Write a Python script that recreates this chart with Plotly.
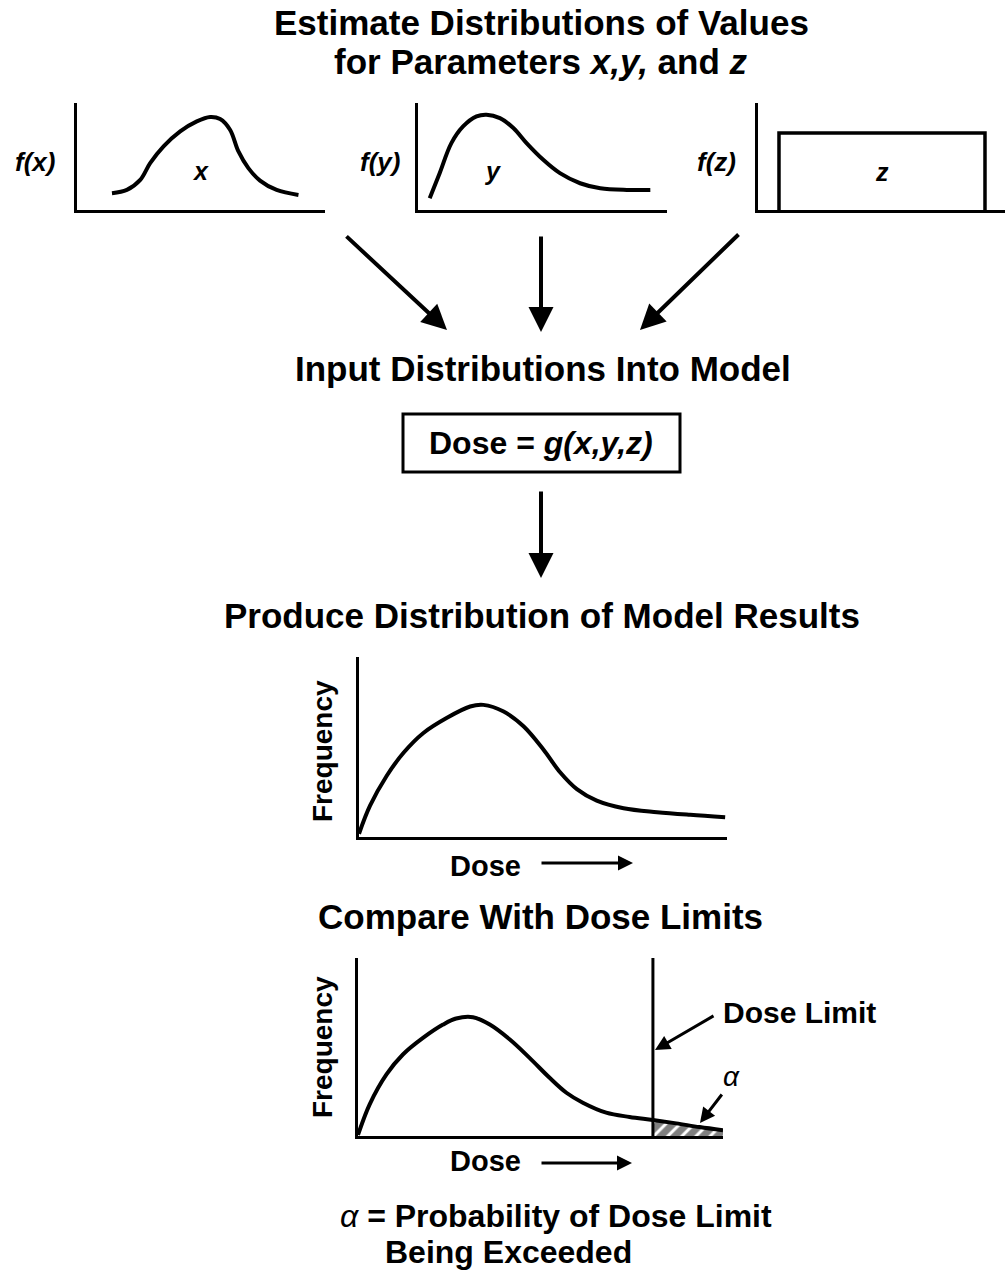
import plotly.graph_objects as go

W, H = 1007, 1276
FONT = "Liberation Sans, Arial, Helvetica, sans-serif"

# ---- data ----
# panel x: f(x)
fx_x = [1.41, 2.01, 2.55, 2.95, 3.49, 4.16, 4.83, 5.37, 5.77, 6.17, 6.51, 6.91, 7.38, 8.05, 8.93]
fx_f = [0.156, 0.1875, 0.281, 0.4375, 0.594, 0.734, 0.828, 0.869, 0.85, 0.75, 0.547, 0.391, 0.275, 0.1875, 0.141]
# panel y: f(y)
fy_x = [0.47, 0.87, 1.34, 1.81, 2.35, 2.75, 3.29, 3.83, 4.36, 5.03, 5.70, 6.51, 7.32, 8.39, 9.33]
fy_f = [0.109, 0.344, 0.625, 0.781, 0.875, 0.891, 0.859, 0.766, 0.625, 0.469, 0.344, 0.25, 0.203, 0.1875, 0.1875]
# panel z: uniform f(z)
fz_x = [0.85, 0.85, 9.19, 9.19]
fz_f = [0.0, 0.72, 0.72, 0.0]
# model results distribution
res_x = [0, 0.30, 0.75, 1.21, 1.75, 2.38, 3.02, 3.38, 3.93, 4.47, 5.01, 5.47, 5.92, 6.46, 7.19, 8.10, 9.00, 9.95]
res_f = [0.018, 0.174, 0.339, 0.468, 0.578, 0.661, 0.725, 0.734, 0.697, 0.615, 0.486, 0.358, 0.266, 0.202, 0.160, 0.138, 0.123, 0.110]
# comparison distribution
cmp_x = [0, 0.32, 0.78, 1.23, 1.78, 2.33, 2.69, 3.15, 3.61, 4.16, 4.70, 5.25, 5.71, 6.16, 6.80, 7.44, 8.08, 8.72, 9.36, 10.0]
cmp_f = [0.006, 0.178, 0.346, 0.458, 0.551, 0.626, 0.660, 0.667, 0.626, 0.542, 0.439, 0.327, 0.243, 0.187, 0.131, 0.107, 0.090, 0.071, 0.050, 0.032]
dose_limit = 8.08

tail_x = [x for x in cmp_x if x >= dose_limit]
tail_f = [f for x, f in zip(cmp_x, cmp_f) if x >= dose_limit]


def clamp(v):
    return max(0.0, min(1.0, v))


def dx(a, b):
    return [clamp(a / W), clamp(b / W)]


def dy(top, bottom):
    return [clamp(1 - bottom / H), clamp(1 - top / H)]


fig = go.Figure()
curve = dict(color="black", width=4)

fig.add_trace(go.Scatter(x=fx_x, y=fx_f, mode="lines", line=dict(shape="spline", **curve), xaxis="x", yaxis="y"))
fig.add_trace(go.Scatter(x=fy_x, y=fy_f, mode="lines", line=dict(shape="spline", **curve), xaxis="x2", yaxis="y2"))
fig.add_trace(go.Scatter(x=fz_x, y=fz_f, mode="lines", line=dict(color="black", width=3.5), xaxis="x3", yaxis="y3"))
fig.add_trace(go.Scatter(x=res_x, y=res_f, mode="lines", line=dict(shape="spline", **curve), xaxis="x4", yaxis="y4"))
fig.add_trace(go.Scatter(x=tail_x, y=tail_f, mode="lines", line=dict(color="black", width=0),
                         fill="tozeroy", fillcolor="white",
                         fillpattern=dict(shape="/", fgcolor="black", bgcolor="white", size=10, solidity=0.7),
                         xaxis="x5", yaxis="y5"))
fig.add_trace(go.Scatter(x=cmp_x, y=cmp_f, mode="lines", line=dict(shape="spline", **curve), xaxis="x5", yaxis="y5"))
fig.add_trace(go.Scatter(x=[dose_limit, dose_limit], y=[0, 1], mode="lines", line=dict(color="black", width=3),
                         xaxis="x5", yaxis="y5"))
fig.add_trace(go.Scatter(x=[], y=[], xaxis="x6", yaxis="y6"))

ax_common = dict(showline=True, linecolor="black", linewidth=3, showticklabels=False,
                 showgrid=False, zeroline=False, ticks="", fixedrange=True)

# panel frames in page pixels: (left, right, top, bottom)
panels = {
    "": (77, 325, 103, 210),
    "2": (418, 667, 103, 210),
    "3": (758, 1005, 103, 210),
    "4": (359, 727, 657, 837),
    "5": (358, 723, 958, 1136),
}
layout_axes = {}
for k, (x0, x1, y0, y1) in panels.items():
    layout_axes["xaxis" + k] = dict(domain=dx(x0, x1), range=[0, 10], anchor="y" + k, **ax_common)
    layout_axes["yaxis" + k] = dict(domain=dy(y0, y1), range=[0, 1], anchor="x" + k, **ax_common)

layout_axes["xaxis6"] = dict(domain=[0, 1], range=[0, W], visible=False, anchor="y6", fixedrange=True)
layout_axes["yaxis6"] = dict(domain=[0, 1], range=[H, 0], visible=False, anchor="x6", fixedrange=True)

annotations = []


def txt(x, y, s, size, italic=False, bold=True, xanchor="center", angle=0):
    annotations.append(dict(
        x=x, y=y, xref="x6", yref="y6", text=s, showarrow=False,
        xanchor=xanchor, yanchor="middle", textangle=angle,
        font=dict(family=FONT, size=size, color="black",
                  weight="bold" if bold else "normal",
                  style="italic" if italic else "normal"),
    ))


def arrow(x0, y0, x1, y1, width=4, size=1.0):
    annotations.append(dict(
        x=x1, y=y1, ax=x0, ay=y0, xref="x6", yref="y6", axref="x6", ayref="y6",
        text="", showarrow=True, arrowhead=2, arrowwidth=width, arrowsize=size,
        arrowcolor="black", standoff=0, startstandoff=0,
    ))


HS = 35
txt(541, 22, "Estimate Distributions of Values", HS)
txt(541, 61.5, "for Parameters <i>x,y,</i> and <i>z</i>", HS)
txt(35, 162, "f(x)", 26, italic=True)
txt(380, 162, "f(y)", 26, italic=True)
txt(716, 162, "f(z)", 26, italic=True)
txt(200, 171, "x", 25, italic=True)
txt(492, 171, "y", 25, italic=True)
txt(882, 172, "z", 25, italic=True)

arrow(345, 235, 447, 330, size=1.25)
arrow(541, 235, 541, 332, size=1.25)
arrow(740, 233, 640, 330, size=1.25)

txt(543, 368, "Input Distributions Into Model", HS)
txt(541, 443, "Dose = <i>g(x,y,z)</i>", 32)
arrow(541, 490, 541, 578, size=1.25)

txt(542, 615, "Produce Distribution of Model Results", HS)
txt(322, 751, "Frequency", 28, angle=-90)
txt(485, 866, "Dose", 29)
arrow(540, 863, 633, 863, width=3, size=1.0)

txt(540, 916, "Compare With Dose Limits", HS)
txt(322, 1047, "Frequency", 28, angle=-90)
txt(485, 1161, "Dose", 29)
arrow(540, 1163, 632, 1163, width=3, size=1.0)

txt(799, 1012, "Dose Limit", 30)
arrow(715, 1015, 655, 1050, width=3, size=1.0)
txt(731, 1076, "α", 28, italic=True, bold=False)
arrow(723, 1093, 700, 1123, width=3, size=1.0)

txt(556, 1216, "<span style='font-weight:normal'><i>α</i></span> = Probability of Dose Limit", 32)
txt(383, 1252, "Being Exceeded", 32, xanchor="left")

shapes = [dict(type="rect", xref="x6", yref="y6", x0=403, x1=680, y0=414, y1=472,
               line=dict(color="black", width=3), fillcolor="rgba(0,0,0,0)")]

fig.update_layout(
    width=W, height=H, margin=dict(l=0, r=0, t=0, b=0),
    paper_bgcolor="white", plot_bgcolor="rgba(0,0,0,0)",
    showlegend=False, annotations=annotations, shapes=shapes,
    font=dict(family=FONT, color="black"),
    **layout_axes,
)

fig.write_html(
    "out.html",
    config={"displayModeBar": False},
    post_script="document.body.style.margin='0px';document.body.style.overflow='hidden';",
)
